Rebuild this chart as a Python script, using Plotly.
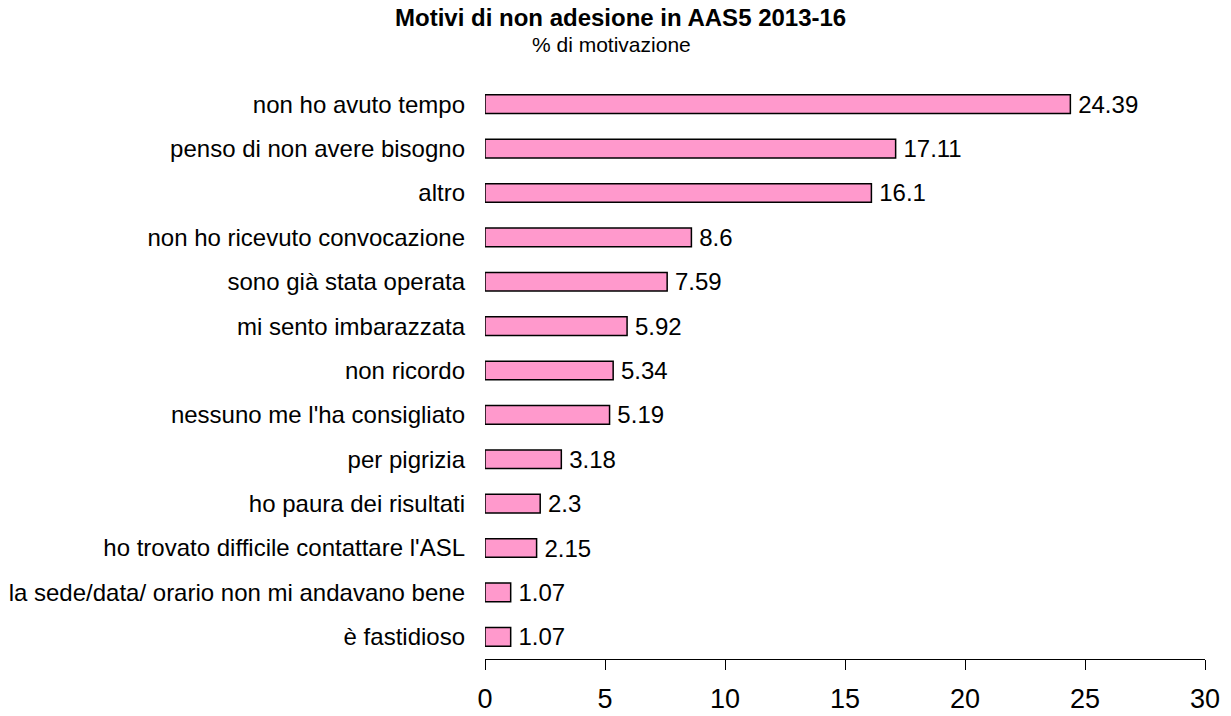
import plotly.graph_objects as go

categories = [
    "non ho avuto tempo",
    "penso di non avere bisogno",
    "altro",
    "non ho ricevuto convocazione",
    "sono già stata operata",
    "mi sento imbarazzata",
    "non ricordo",
    "nessuno me l'ha consigliato",
    "per pigrizia",
    "ho paura dei risultati",
    "ho trovato difficile contattare l'ASL",
    "la sede/data/ orario non mi andavano bene",
    "è fastidioso",
]
values = [24.39, 17.11, 16.1, 8.6, 7.59, 5.92, 5.34, 5.19, 3.18, 2.3, 2.15, 1.07, 1.07]
value_labels = ["24.39", "17.11", "16.1", "8.6", "7.59", "5.92", "5.34", "5.19", "3.18", "2.3", "2.15", "1.07", "1.07"]
x_ticks = [0, 5, 10, 15, 20, 25, 30]

FONT = "Liberation Sans, Arial, sans-serif"

ML, MR, MT, MB = 485, 26, 82, 57
W, H = 1231, 716
plot_w = W - ML - MR
plot_h = H - MT - MB


def px_x(X):
    return (X - ML) / plot_w


def px_y(Y):
    return 1 + (MT - Y) / plot_h


fig = go.Figure(go.Bar(
    x=values,
    y=categories,
    orientation="h",
    text=["\u2009" + t for t in value_labels],
    textposition="outside",
    constraintext="none",
    textfont=dict(family=FONT, size=24, color="black"),
    cliponaxis=False,
    width=0.42,
    marker=dict(color="#FF99CC", line=dict(color="black", width=1.5)),
    hoverinfo="x+y",
))

fig.update_layout(
    width=W,
    height=H,
    paper_bgcolor="white",
    plot_bgcolor="white",
    margin=dict(l=ML, r=MR, t=MT, b=MB, autoexpand=False),
    showlegend=False,
    font=dict(family=FONT, color="black"),
    annotations=[
        dict(text="<b>Motivi di non adesione in AAS5 2013-16</b>", x=px_x(620.5), y=px_y(17),
             xref="paper", yref="paper", xanchor="center", yanchor="middle", showarrow=False,
             borderpad=0, font=dict(size=24, family=FONT, color="black")),
        dict(text="% di motivazione", x=px_x(611.5), y=px_y(44),
             xref="paper", yref="paper", xanchor="center", yanchor="middle", showarrow=False,
             borderpad=0, font=dict(size=21, family=FONT, color="black")),
    ],
)

fig.update_xaxes(
    automargin=False,
    range=[0, 30],
    tickvals=x_ticks,
    ticks="outside",
    ticklen=10,
    tickcolor="black",
    tickwidth=1,
    showline=True,
    linecolor="black",
    linewidth=1,
    showgrid=False,
    zeroline=False,
    tickfont=dict(size=27, family=FONT, color="black"),
    ticklabelstandoff=6,
)
fig.update_yaxes(
    automargin=False,
    categoryorder="array",
    categoryarray=categories[::-1],
    range=[-0.5, 12.5],
    showgrid=False,
    showline=False,
    ticks="",
    tickfont=dict(size=24, family=FONT, color="black"),
    ticklabelstandoff=19,
)

fig.write_html("out.html", config={"displayModeBar": False},
               post_script="document.body.style.margin='0';")
